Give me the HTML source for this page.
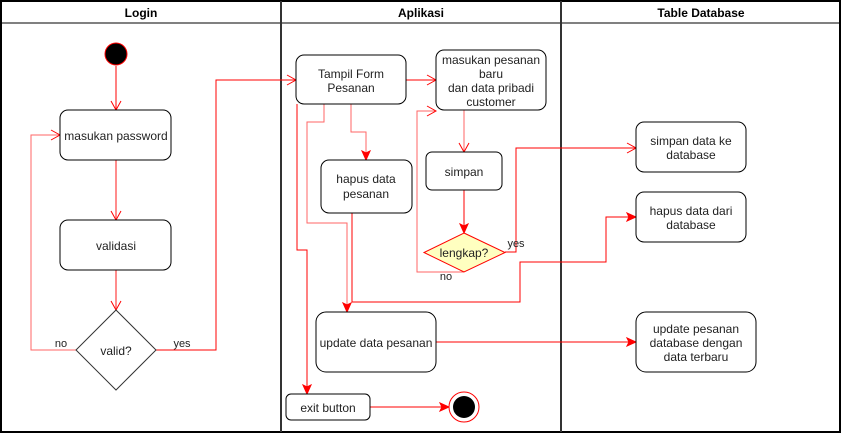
<!DOCTYPE html>
<html><head><meta charset="utf-8"><style>
html,body{margin:0;padding:0;background:#fff;}
svg{display:block;font-family:"Liberation Sans",Arial,sans-serif;font-size:12px;}
</style></head><body>
<svg width="841" height="433" viewBox="0 0 841 433" xmlns="http://www.w3.org/2000/svg">
<defs>
<marker id="op" markerWidth="12" markerHeight="12" refX="10" refY="6" orient="auto" markerUnits="userSpaceOnUse"><path d="M1,1 L10,6 L1,11" fill="none" stroke="#f00" stroke-width="1"/></marker>
<marker id="fl" markerWidth="12" markerHeight="12" refX="10" refY="6" orient="auto" markerUnits="userSpaceOnUse"><path d="M1,2 L10,6 L1,10 L3,6 Z" fill="#f00" stroke="#f00"/></marker>
</defs>
<rect x="1" y="1" width="839" height="431" fill="#fff" stroke="#000" stroke-width="2"/>
<line x1="1" y1="23" x2="840" y2="23" stroke="#000"/>
<line x1="281" y1="1" x2="281" y2="432" stroke="#333" stroke-width="2"/>
<line x1="561" y1="1" x2="561" y2="432" stroke="#333" stroke-width="2"/>
<g font-weight="bold" text-anchor="middle" font-size="12">
<text x="141" y="17">Login</text><text x="421" y="17">Aplikasi</text><text x="701" y="17">Table Database</text>
</g>
<g fill="none" stroke="#f00" stroke-width="1">
<path d="M116,66 L116,110" marker-end="url(#op)"/>
<path d="M116,160 L116,220" stroke="#f66" stroke-width="1.5" marker-end="url(#op)"/>
<path d="M116,270 L116,310" stroke="#f66" stroke-width="1.5" marker-end="url(#op)"/>
<path d="M76,350 L31,350 L31,135 L60,135" stroke="#f66" marker-end="url(#op)"/>
<path d="M156,350 L216,350 L216,80 L296,80" marker-end="url(#op)"/>
<path d="M406,80 L436,80" marker-end="url(#op)"/>
<path d="M351,104 L351,132 L366,132 L366,160" stroke="#f66" marker-end="url(#fl)"/>
<path d="M324,104 L324,122 L307,122 L307,223 L347,223 L347,312" stroke="#f66" marker-end="url(#fl)"/>
<path d="M297,104 L297,250 L307,250 L307,394" marker-end="url(#fl)"/>
<path d="M352,213 L352,302 L520,302 L520,262 L606,262 L606,217 L636,217" marker-end="url(#fl)"/>
<path d="M464,110 L464,152" stroke="#f66" marker-end="url(#op)"/>
<path d="M464,190 L464,233" marker-end="url(#fl)"/>
<path d="M464,272 L417,272 L417,111 L436,111" stroke="#f66" marker-end="url(#op)"/>
<path d="M505,252 L516,252 L516,148 L636,148" marker-end="url(#op)"/>
<path d="M436,342 L636,342" marker-end="url(#fl)"/>
<path d="M370,407 L449,407" marker-end="url(#fl)"/>
</g>
<circle cx="116" cy="54" r="11" fill="#000" stroke="#f00"/>
<circle cx="464" cy="407" r="15" fill="#fff" stroke="#f00"/>
<circle cx="464" cy="407" r="11" fill="#000"/>
<g fill="#fff" stroke="#000">
<rect x="60" y="110" width="111" height="50" rx="8"/>
<rect x="60" y="220" width="111" height="50" rx="8"/>
<path d="M116,310 L156,350 L116,390 L76,350 Z" stroke="#333"/>
<rect x="296" y="55" width="110" height="49" rx="8"/>
<rect x="436" y="50" width="110" height="60" rx="8"/>
<rect x="321" y="160" width="91" height="53" rx="8"/>
<rect x="426" y="152" width="76" height="38" rx="6"/>
<path d="M464,233 L505,252.5 L464,272 L424,252.5 Z" fill="#ffffc0" stroke="#f00"/>
<rect x="316" y="312" width="120" height="60" rx="10"/>
<rect x="286" y="394" width="84" height="26" rx="5"/>
<rect x="636" y="122" width="110" height="50" rx="8"/>
<rect x="636" y="192" width="110" height="50" rx="8"/>
<rect x="636" y="312" width="120" height="60" rx="10"/>
</g>
<g fill="#222" text-anchor="middle">
<text x="116" y="140">masukan password</text>
<text x="116" y="250">validasi</text>
<text x="116" y="355">valid?</text>
<text x="351" y="78">Tampil Form</text><text x="351" y="92">Pesanan</text>
<text x="491" y="64">masukan pesanan</text><text x="491" y="78">baru</text><text x="491" y="92">dan data pribadi</text><text x="491" y="106">customer</text>
<text x="366" y="183">hapus data</text><text x="366" y="198">pesanan</text>
<text x="464" y="176">simpan</text>
<text x="464" y="257">lengkap?</text>
<text x="376" y="347">update data pesanan</text>
<text x="328" y="412">exit button</text>
<text x="691" y="145">simpan data ke</text><text x="691" y="159">database</text>
<text x="691" y="215">hapus data dari</text><text x="691" y="229">database</text>
<text x="696" y="333">update pesanan</text><text x="696" y="347">database dengan</text><text x="696" y="361">data terbaru</text>
</g>
<g fill="#222" font-size="11" text-anchor="middle">
<text x="61" y="347">no</text>
<text x="182" y="347">yes</text>
<text x="446" y="280">no</text>
<text x="516" y="247">yes</text>
</g>
</svg>
</body></html>
